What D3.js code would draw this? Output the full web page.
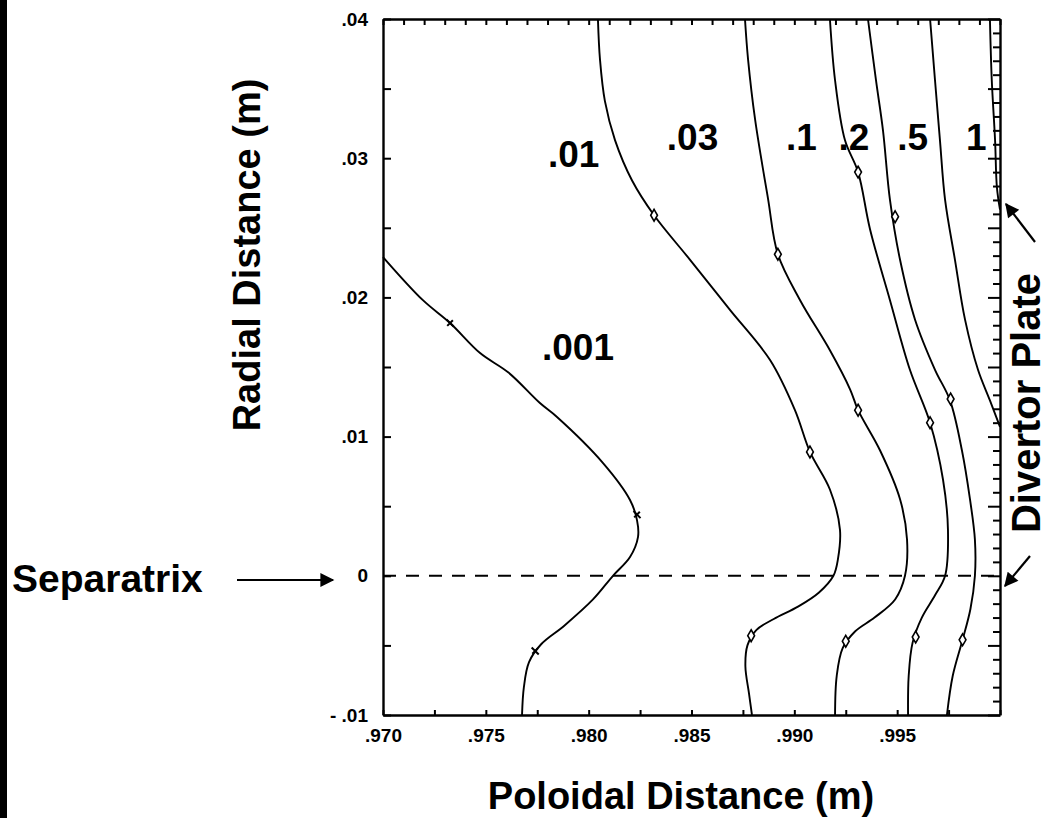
<!DOCTYPE html>
<html><head><meta charset="utf-8">
<script src="https://cdn.jsdelivr.net/npm/d3@7"></script>
<style>
html,body{margin:0;padding:0;background:#fff;}
svg{display:block;font-family:"Liberation Sans",Arial,Helvetica,sans-serif;}
</style></head>
<body>
<svg id="chart" width="1048" height="818"></svg>
<script>
// ---- data (Poloidal distance x, Radial distance y, in metres) ----
const contourLabels = [".001", ".01", ".03", ".1", ".2", ".5", "1"];

const c001 = [[.9700,.0229],[.97194,.0198],[.97326,.01816],[.97472,.0160],[.97610,.0146],[.97763,.01241],[.97846,.01141],[.98070,.0081],[.98201,.00545],[.98235,.0040],[.98240,.0028],[.98201,.00135],[.98118,0],[.98021,-.0017],[.97880,-.0036],[.97770,-.0049],[.97710,-.0062],[.97685,-.0080],[.97676,-.0100]];
const c01  = [[.98045,.0400],[.98055,.0371],[.98079,.0341],[.98128,.0313],[.98211,.0284],[.98318,.0259],[.98493,.0227],[.98687,.0191],[.98882,.0155],[.99003,.0119],[.99076,.0089],[.99173,.0062],[.99222,.0033],[.99212,.0012],[.99190,0],[.99120,-.0012],[.99020,-.0022],[.98900,-.0031],[.98815,-.0039],[.98772,-.0050],[.98762,-.0065],[.98780,-.0085],[.98794,-.0100]];
const c03  = [[.9876,.0400],[.98775,.0371],[.98809,.0328],[.98872,.0271],[.9892,.0231],[.99028,.0198],[.99173,.0162],[.99271,.0134],[.9931,.0119],[.99417,.0090],[.99514,.0055],[.99548,.0026],[.99538,0],[.9949,-.0017],[.99390,-.0030],[.99295,-.0040],[.99235,-.0052],[.99206,-.0072],[.99198,-.0100]];
const c1   = [[.99173,.0400],[.99198,.0356],[.99246,.0313],[.9931,.0290],[.99368,.0249],[.99465,.0198],[.99562,.0148],[.9966,.0110],[.99723,.0069],[.99747,.0033],[.99733,0],[.99684,-.0014],[.99620,-.0030],[.99575,-.0048],[.99556,-.0072],[.99553,-.0100]];
const c2   = [[.99358,.0400],[.99397,.0356],[.99431,.0320],[.99465,.0270],[.99514,.0227],[.99587,.0184],[.99684,.0148],[.99757,.0126],[.99815,.0090],[.99854,.0055],[.99878,.0026],[.99878,0],[.99856,-.0024],[.99818,-.0046],[.99770,-.0072],[.99742,-.0100]];
const c5   = [[.9966,.0400],[.99684,.0356],[.99708,.0313],[.99733,.0270],[.99781,.0227],[.9983,.0184],[.99893,.0148],[.99951,.0126],[1.0,.0107]];
const c10  = [[.99951,.0400],[.9996,.0356],[.99976,.0313],[.99985,.0279],[1.0,.0263]];
const contours = [c001, c01, c03, c1, c2, c5, c10];

// marker points on the contours
const marks001 = [[.97326,.01816],[.98235,.0044],[.97740,-.0054]];
const marksOther = [[.98318,.0259],[.99076,.0089],[.98790,-.0043],
                    [.9892,.0231],[.9931,.0119],[.99250,-.0047],
                    [.9931,.0290],[.9966,.0110],[.99590,-.0044],
                    [.9949,.0258],[.9976,.0127],[.99818,-.0046]];

// label anchor positions (data units, left/baseline)
const labelPos = [[.97773,.0155],[.97802,.0294],[.98380,.0306],[.98960,.0306],[.99215,.0306],[.99500,.0306],[.99835,.0306]];

const xTicksMajor = [.970,.975,.980,.985,.990,.995];
const xTickLabels = [".970",".975",".980",".985",".990",".995"];
const yTicksMajor = [-.01,0,.01,.02,.03,.04];
const yTickLabels = ["- .01","0",".01",".02",".03",".04"];

// ---- drawing ----
const svg = d3.select("#chart");
const x = d3.scaleLinear().domain([.970, 1.000]).range([383, 1000]);
const y = d3.scaleLinear().domain([-.01, .04]).range([715, 19]);
const FONT = "'Liberation Sans',Arial,Helvetica,sans-serif";

// scan edge bar at far left
svg.append("rect").attr("x",0).attr("y",0).attr("width",7).attr("height",818).attr("fill","#000");

const minorX1 = d3.range(0,31).map(i => +(0.970 + i*0.001).toFixed(4));
const minorX25 = d3.range(0,13).map(i => +(0.970 + i*0.0025).toFixed(4));
const minorY1 = d3.range(0,51).map(i => +(-0.01 + i*0.001).toFixed(4));

// bottom axis (minor ticks every .0025)
svg.append("g").attr("transform",`translate(0,${y(-.01)})`)
  .call(d3.axisBottom(x).tickValues(minorX25).tickSizeInner(-5).tickSizeOuter(0).tickFormat(""));
// bottom labels
svg.append("g").attr("transform",`translate(0,${y(-.01)})`)
  .call(d3.axisBottom(x).tickValues(xTicksMajor).tickSize(0).tickPadding(14)
        .tickFormat((d,i)=>xTickLabels[i]))
  .call(g=>g.select(".domain").remove());
// top axis
svg.append("g").attr("transform",`translate(0,${y(.04)})`)
  .call(d3.axisTop(x).tickValues(minorX1).tickSizeInner(-6).tickSizeOuter(0).tickFormat(""));
// left axis
svg.append("g").attr("transform",`translate(${x(.970)},0)`)
  .call(d3.axisLeft(y).tickValues(yTicksMajor.concat([-.005,.005,.015,.025,.035])).tickSizeInner(-8).tickSizeOuter(0).tickPadding(15)
        .tickFormat(d=>{const i=yTicksMajor.findIndex(v=>Math.abs(v-d)<1e-9);return i<0?"":yTickLabels[i];}));
// right axis
svg.append("g").attr("transform",`translate(${x(1.0)},0)`)
  .call(d3.axisRight(y).tickValues(minorY1).tickSizeInner(-7).tickSizeOuter(0).tickFormat(""))
  .call(g=>g.selectAll(".tick line").filter(d=>Math.abs(Math.round(d*200)-d*200)<1e-6).attr("x2",-12));

svg.selectAll(".domain").attr("stroke","#000").attr("stroke-width",2.4);
svg.selectAll(".tick line").attr("stroke","#000").attr("stroke-width",2);
svg.selectAll(".tick text").attr("font-family",FONT).attr("font-size",19).attr("font-weight","bold").attr("fill","#000");

// separatrix dashed line
svg.append("line").attr("x1",x(.970)).attr("x2",x(1.0)).attr("y1",y(0)).attr("y2",y(0))
  .attr("stroke","#000").attr("stroke-width",2).attr("stroke-dasharray","13,10");

// contour curves
const line = d3.line().x(d=>x(d[0])).y(d=>y(d[1])).curve(d3.curveCatmullRom.alpha(0.5));
svg.append("g").selectAll("path").data(contours).join("path")
  .attr("d",line).attr("fill","none").attr("stroke","#000").attr("stroke-width",1.9);

// markers
svg.append("g").selectAll("path").data(marks001).join("path")
  .attr("transform",d=>`translate(${x(d[0])},${y(d[1])}) rotate(45)`)
  .attr("d","M-5,0H5M0,-4V4").attr("stroke","#000").attr("stroke-width",2);
svg.append("g").selectAll("path").data(marksOther).join("path")
  .attr("transform",d=>`translate(${x(d[0])},${y(d[1])})`)
  .attr("d",d3.symbol(d3.symbolDiamond,40)).attr("fill","#fff").attr("stroke","#000").attr("stroke-width",1.6);

// contour labels
svg.append("g").selectAll("text").data(contourLabels).join("text")
  .attr("x",(d,i)=>x(labelPos[i][0])).attr("y",(d,i)=>y(labelPos[i][1]))
  .attr("font-family",FONT).attr("font-weight","bold").attr("font-size",37).text(d=>d);

// axis titles
svg.append("text").attr("x",681).attr("y",809).attr("text-anchor","middle")
  .attr("font-family",FONT).attr("font-weight","bold").attr("font-size",38).text("Poloidal Distance (m)");
svg.append("text").attr("transform","translate(260,255) rotate(-90)").attr("text-anchor","middle")
  .attr("font-family",FONT).attr("font-weight","bold").attr("font-size",38).text("Radial Distance (m)");
svg.append("text").attr("x",12).attr("y",592)
  .attr("font-family",FONT).attr("font-weight","bold").attr("font-size",39).text("Separatrix");
svg.append("text").attr("transform","translate(1040,403) rotate(-90)").attr("text-anchor","middle")
  .attr("font-family",FONT).attr("font-weight","bold").attr("font-size",40).text("Divertor Plate");

// arrows
const defs = svg.append("defs");
defs.append("marker").attr("id","ahL").attr("viewBox","0 0 10 10").attr("refX",9).attr("refY",5)
  .attr("markerWidth",20).attr("markerHeight",14).attr("markerUnits","userSpaceOnUse").attr("orient","auto")
  .append("path").attr("d","M0,0L10,5L0,10Z").attr("fill","#000");
svg.append("line").attr("x1",237).attr("y1",580).attr("x2",333).attr("y2",580)
  .attr("stroke","#000").attr("stroke-width",2.2).attr("marker-end","url(#ahL)");
svg.append("line").attr("x1",1035).attr("y1",242).attr("x2",1006).attr("y2",204)
  .attr("stroke","#000").attr("stroke-width",2.2).attr("marker-end","url(#ahL)");
svg.append("line").attr("x1",1030).attr("y1",556).attr("x2",1005).attr("y2",586)
  .attr("stroke","#000").attr("stroke-width",2.2).attr("marker-end","url(#ahL)");
</script>
</body></html>
